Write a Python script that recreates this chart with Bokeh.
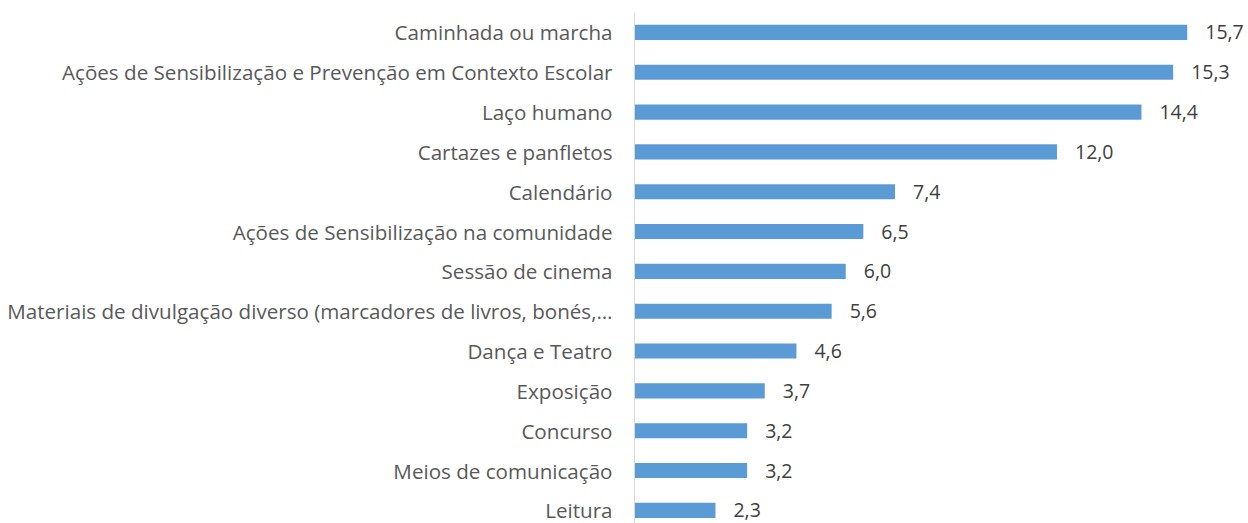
from bokeh.plotting import figure
from bokeh.models import ColumnDataSource, Range1d, FixedTicker
from bokeh.core.properties import value
from bokeh.embed import file_html
from bokeh.resources import INLINE

categories = [
    "Caminhada ou marcha",
    "Ações de Sensibilização e Prevenção em Contexto Escolar",
    "Laço humano",
    "Cartazes e panfletos",
    "Calendário",
    "Ações de Sensibilização na comunidade",
    "Sessão de cinema",
    "Materiais de divulgação diverso (marcadores de livros, bonés,…",
    "Dança e Teatro",
    "Exposição",
    "Concurso",
    "Meios de comunicação",
    "Leitura",
]
values = [15.7, 15.3, 14.4, 12.0, 7.4, 6.5, 6.0, 5.6, 4.6, 3.7, 3.2, 3.2, 2.3]
labels = [f"{v:.1f}".replace(".", ",") for v in values]

n = len(categories)
ypos = [n - 1 - i for i in range(n)]

src = ColumnDataSource(dict(y=ypos, v=values, lab=labels, cat=categories))

FONT = "Open Sans"

p = figure(width=1248, height=523, output_backend="svg", toolbar_location=None,
           x_range=Range1d(0, 17.44), y_range=Range1d(-0.33, n - 0.5),
           min_border_left=634, min_border_right=0, min_border_top=12, min_border_bottom=0)
p.outline_line_color = None
p.xgrid.visible = False
p.ygrid.visible = False
p.xaxis.visible = False

p.hbar(y="y", right="v", left=0, height=0.38, source=src, color="#5B9BD5", line_color=None)
p.text(x="v", y="y", text="lab", source=src, x_offset=18, text_align="left",
       text_baseline="middle", text_font=value(FONT), text_font_size="19.5px", text_color="#404040")

ax = p.yaxis[0]
ax.ticker = FixedTicker(ticks=ypos)
ax.major_label_overrides = {y: c for y, c in zip(ypos, categories)}
ax.axis_line_color = "#D9D9D9"
ax.axis_line_width = 1
ax.major_tick_line_color = None
ax.minor_tick_line_color = None
ax.major_label_standoff = 16
ax.major_label_text_font = FONT
ax.major_label_text_font_size = "20.6px"
ax.major_label_text_color = "#595959"

open("out.html", "w").write(file_html(p, INLINE))
